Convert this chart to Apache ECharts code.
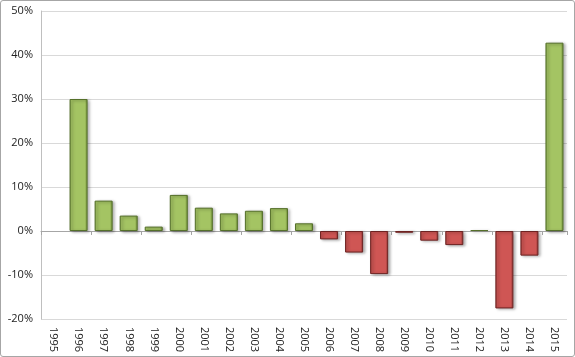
<!DOCTYPE html>
<html><head><meta charset="utf-8">
<script src="https://cdn.jsdelivr.net/npm/echarts@6/dist/echarts.min.js"></script>
<style>html,body{margin:0;padding:0;background:#fff}#c{width:573px;height:355px;border:1px solid #a6a6a6;border-radius:3px}</style>
</head><body><div id="c"></div>
<script>
var years = ['1995','1996','1997','1998','1999','2000','2001','2002','2003','2004','2005','2006','2007','2008','2009','2010','2011','2012','2013','2014','2015'];
var returns = [null, 30.0, 6.9, 3.5, 1.0, 8.2, 5.3, 4.0, 4.6, 5.2, 1.75, -1.9, -4.9, -9.8, -0.4, -2.2, -3.2, 0.2, -17.6, -5.6, 42.8];
var yTicks = [-20, -10, 0, 10, 20, 30, 40, 50];

function grad(mid, dark){
  return {type:'linear',x:0,y:0,x2:1,y2:0,colorStops:[
    {offset:0,color:dark},{offset:0.1,color:mid},{offset:0.85,color:mid},{offset:1,color:dark}]};
}
var green = {color: grad('#a4c463','#6f8d36'), borderColor:'#55702a', borderWidth:1, shadowColor:'rgba(0,0,0,0.35)', shadowBlur:3, shadowOffsetX:2, shadowOffsetY:1};
var red = {color: grad('#cf5654','#8f3432'), borderColor:'#6e2322', borderWidth:1, shadowColor:'rgba(0,0,0,0.35)', shadowBlur:3, shadowOffsetX:2, shadowOffsetY:1};

var data = returns.map(function(v){ return v===null ? null : {value:v, itemStyle: v>=0?green:red}; });

var chart = echarts.init(document.getElementById('c'));
chart.setOption({
  animation:false,
  grid:{left:40, right:7, top:10, bottom:37, containLabel:false, outerBoundsMode:'none'},
  xAxis:[{type:'category', data:years,
    axisLine:{onZero:true, lineStyle:{color:'#a6a6a6'}},
    axisTick:{show:true, length:4, lineStyle:{color:'#a6a6a6'}},
    axisLabel:{show:false}
  },{type:'category', data:years, position:'bottom',
    axisLine:{show:false, onZero:false}, axisTick:{show:false},
    axisLabel:{rotate:-90, interval:0, color:'#222', fontSize:11, fontFamily:'Open Sans', margin:8}
  }],
  yAxis:{type:'value', min:yTicks[0], max:yTicks[yTicks.length-1], interval:10,
    axisLine:{show:true, lineStyle:{color:'#bfbfbf'}},
    axisTick:{show:false},
    splitLine:{lineStyle:{color:'#d9d9d9'}},
    axisLabel:{formatter:'{value}%', color:'#222', fontSize:11, fontFamily:'Open Sans', margin:8}
  },
  series:[{type:'bar', data:data, barCategoryGap:'28%', xAxisIndex:0}]
});
</script></body></html>
